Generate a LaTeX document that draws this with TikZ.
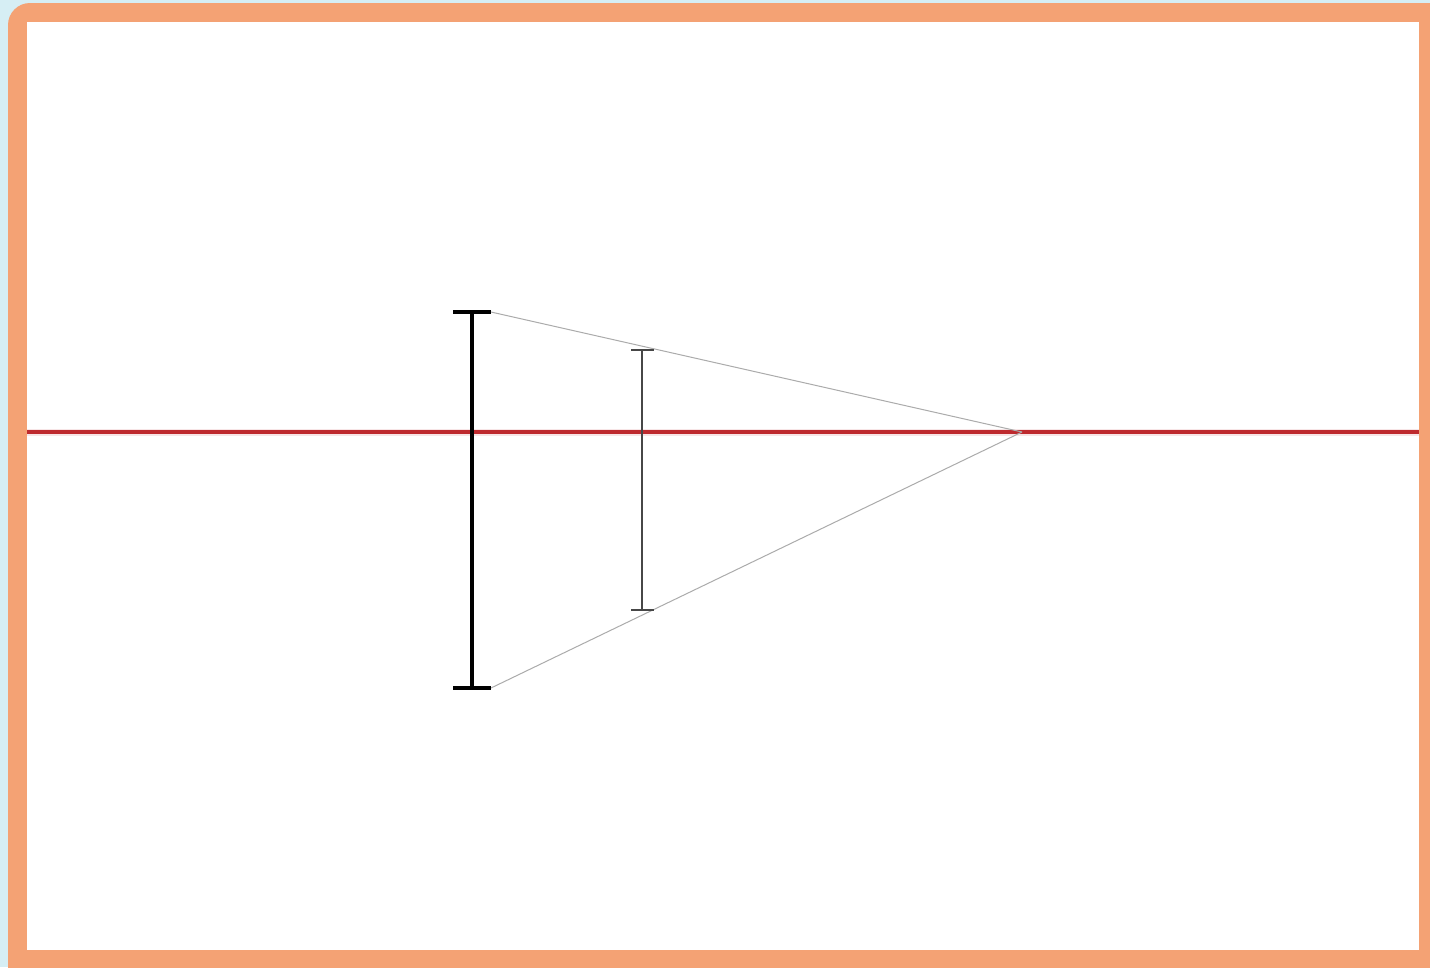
\documentclass[tikz,border=0pt]{standalone}
\definecolor{bgblue}{HTML}{D6EEF4}
\definecolor{frameor}{HTML}{F4A274}
\definecolor{axisred}{HTML}{BE2A2E}
\definecolor{raygray}{HTML}{ABABAB}
\tikzset{
  bigbar/.style={line width=3.5pt,black},
  smallbar/.style={line width=2pt,black!72},
  ray/.style={line width=1pt,raygray},
  axis/.style={line width=3.2pt,axisred},
}
\begin{document}
\begin{tikzpicture}[x=1pt,y=-1pt]
\useasboundingbox (0,0) rectangle (1430,967);
\clip (0,0) rectangle (1430,967);
\fill[bgblue] (0,0) rectangle (1430,967);
\fill[frameor,rounded corners=22pt] (8,3) rectangle (1460,1000);
\fill[white] (27,22) rectangle (1419,950);
% axis
\coordinate (axL) at (27,432);
\coordinate (axR) at (1419,432);
\draw[axisred!12,line width=7pt] (axL) -- (axR);
\draw[axis] (axL) -- (axR);
% vanishing point
\coordinate (vp) at (1022,432);
% big bar
\coordinate (bT) at (472,312);
\coordinate (bB) at (472,688);
\coordinate (bTL) at (453,312);
\coordinate (bTR) at (491,312);
\coordinate (bBL) at (453,688);
\coordinate (bBR) at (491,688);
% small bar
\coordinate (sT) at (642,350);
\coordinate (sB) at (642,610);
\coordinate (sTL) at (631,350);
\coordinate (sTR) at (654,350);
\coordinate (sBL) at (631,610);
\coordinate (sBR) at (654,610);
% rays
\draw[ray] (bTR) -- (vp);
\draw[ray] (bBR) -- (vp);
% bars
\draw[bigbar] (bT) -- (bB);
\draw[bigbar] (bTL) -- (bTR);
\draw[bigbar] (bBL) -- (bBR);
\draw[smallbar] (sT) -- (sB);
\draw[smallbar] (sTL) -- (sTR);
\draw[smallbar] (sBL) -- (sBR);
\end{tikzpicture}
\end{document}
